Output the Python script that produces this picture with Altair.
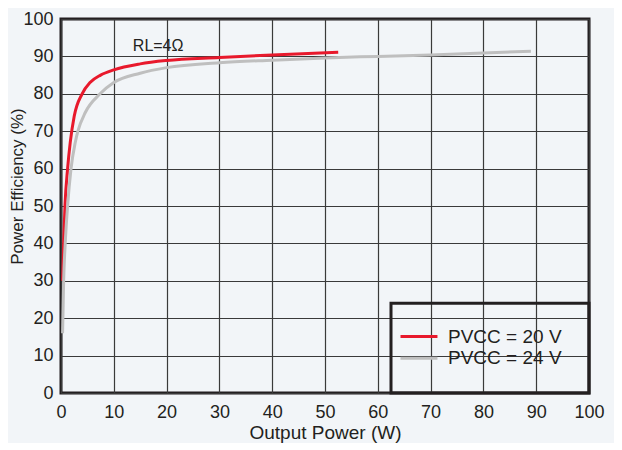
import altair as alt
import pandas as pd

# PVCC = 20 V curve (red)
red_x = [0.3, 0.5, 0.75, 1.25, 1.75, 2.5, 4.0, 5.5, 7.5, 10, 15, 20, 30, 40, 52.5]
red_y = [30, 40, 50, 60, 67, 74, 80, 83, 85, 86.4, 88, 88.9, 89.7, 90.4, 91.1]

# PVCC = 24 V curve (gray)
gray_x = [0.3, 0.5, 0.8, 1.25, 1.9, 2.7, 3.2, 4.6, 7.4, 10, 15, 20, 30, 40, 50, 60, 70, 80, 89]
gray_y = [16, 30, 40, 50, 60, 67, 70, 75, 80, 83, 85.5, 87, 88.3, 89, 89.6, 90, 90.4, 90.9, 91.4]

series = ["PVCC = 20 V", "PVCC = 24 V"]
colors = ["#e8192c", "#bfbfbf"]

x_ticks = [0, 10, 20, 30, 40, 50, 60, 70, 80, 90, 100]
y_ticks = [0, 10, 20, 30, 40, 50, 60, 70, 80, 90, 100]

# legend layout (in data units)
legend_box = {"x": 62.5, "x2": 100, "y": 0, "y2": 24}
legend_sw_x = [64.3, 71.3]
legend_y = [15.1, 9.3]
legend_text_x = 73.3

FONT = "Liberation Sans"
INK = "#231f20"

df = pd.DataFrame(
    {"x": red_x + gray_x,
     "y": red_y + gray_y,
     "s": [series[0]] * len(red_x) + [series[1]] * len(gray_x)}
)

xs = alt.Scale(domain=[0, 100], nice=False)
ys = alt.Scale(domain=[0, 100], nice=False)
cs = alt.Scale(domain=series, range=colors)

xaxis = alt.Axis(values=x_ticks, title="Output Power (W)", grid=True,
                 ticks=False, domain=False, labelFontSize=18, labelFont=FONT,
                 labelColor=INK, labelPadding=10, labelFlush=False,
                 labelOverlap=False,
                 titleFont=FONT, titleFontSize=19, titleFontWeight="normal",
                 titleColor=INK, titlePadding=2,
                 gridColor="#3a3a3a", gridWidth=1.2, gridOpacity=1)
yaxis = alt.Axis(values=y_ticks, title="Power Efficiency (%)", grid=True,
                 ticks=False, domain=False, labelFontSize=18, labelFont=FONT,
                 labelColor=INK, labelPadding=8, labelFlush=False,
                 labelOverlap=False,
                 titleFont=FONT, titleFontSize=17, titleFontWeight="normal",
                 titleColor=INK, titleAngle=270, titleAlign="center",
                 titleBaseline="middle", titleX=-44, titleY=167,
                 gridColor="#3a3a3a", gridWidth=1.2, gridOpacity=1)


def X(f):
    return alt.X(f, scale=xs, axis=xaxis, title="Output Power (W)")


def Y(f):
    return alt.Y(f, scale=ys, axis=yaxis, title="Power Efficiency (%)")


lines = alt.Chart(df).mark_line(strokeWidth=3, interpolate="monotone").encode(
    x=X("x:Q"), y=Y("y:Q"),
    color=alt.Color("s:N", scale=cs, legend=None),
    detail="s:N",
)

box_df = pd.DataFrame([legend_box])
box = alt.Chart(box_df).mark_rect(fill=None, fillOpacity=0, stroke=INK, strokeWidth=3).encode(
    x=X("x:Q"), x2="x2:Q", y=Y("y:Q"), y2="y2:Q"
)

leg_df = pd.DataFrame({
    "x": [legend_sw_x[0]] * 2, "x2": [legend_sw_x[1]] * 2,
    "y": legend_y, "s": series, "tx": [legend_text_x] * 2,
})
sw = alt.Chart(leg_df).mark_rule(strokeWidth=3).encode(
    x=X("x:Q"), x2="x2:Q", y=Y("y:Q"),
    color=alt.Color("s:N", scale=cs, legend=None),
)
lt = alt.Chart(leg_df).mark_text(align="left", baseline="middle", font=FONT,
                                 fontSize=19, color=INK).encode(
    x=X("tx:Q"), y=Y("y:Q"), text="s:N"
)

ann_df = pd.DataFrame({"x": [18.4], "y": [92.8], "t": ["RL=4Ω"]})
ann = alt.Chart(ann_df).mark_text(font=FONT, fontSize=16, color=INK,
                                  align="center", baseline="middle").encode(
    x=X("x:Q"), y=Y("y:Q"), text="t:N"
)

chart = alt.layer(lines, box, sw, lt, ann).properties(
    width=528, height=374,
    autosize=alt.AutoSizeParams(type="none"),
    padding={"left": 53, "top": 11, "right": 25, "bottom": 50},
    background="#f2f5f8",
).configure_view(stroke=INK, strokeWidth=3, fill="#f2f5f8")

chart.save("out.html", embed_options={"renderer": "svg", "actions": False})
